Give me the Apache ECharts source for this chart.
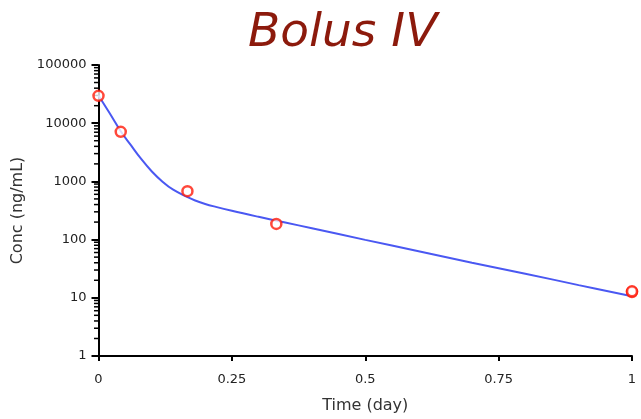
<!DOCTYPE html>
<html>
<head>
<meta charset="utf-8">
<script src="https://cdn.jsdelivr.net/npm/echarts@6/dist/echarts.min.js"></script>
<style>
  html, body { margin: 0; padding: 0; background: #fff; }
  #chart { width: 641px; height: 419px; }
</style>
</head>
<body>
<div id="chart"></div>
<script>
// Observed plasma concentrations after an IV bolus
const obsTime = [0, 0.0417, 0.1667, 0.3333, 1, 1];
const obsConc = [29500, 7100, 680, 186, 12.6, 12.9];

// Fitted concentration-time curve
const fitTime = [0, 0.021, 0.042, 0.06, 0.08, 0.10, 0.12, 0.14, 0.167, 0.18, 0.20, 0.22, 0.25, 0.30, 0.35, 0.40, 0.50, 0.60, 0.70, 0.80, 0.90, 1.00];
const fitConc = [30000, 14800, 7200, 4280, 2430, 1480, 990, 720, 535, 475, 410, 365, 312, 246, 196, 157, 99, 63, 40, 26, 16.5, 10.6];

// Axis ticks
const xTicks = [0, 0.25, 0.5, 0.75, 1];
const yDecades = [1, 10, 100, 1000, 10000, 100000];

const minorTicks = [];
yDecades.slice(0, -1).forEach(d => {
  for (let k = 2; k <= 9; k++) minorTicks.push([0, d * k]);
});

const FONT = 'DejaVu Sans';
const chart = echarts.init(document.getElementById('chart'), null, { renderer: 'canvas' });

chart.setOption({
  animation: false,
  backgroundColor: '#ffffff',
  title: {
    text: 'Bolus IV',
    left: 243,
    top: 5,
    textStyle: {
      fontFamily: FONT,
      fontStyle: 'italic',
      fontWeight: 'normal',
      fontSize: 47,
      color: '#8c1a0c'
    }
  },
  grid: { left: 98.5, right: 9, top: 65, bottom: 61, containLabel: false },
  xAxis: {
    type: 'value',
    min: xTicks[0],
    max: xTicks[xTicks.length - 1],
    interval: 0.25,
    name: 'Time (day)',
    nameLocation: 'middle',
    nameGap: 42,
    nameTextStyle: { fontFamily: FONT, fontSize: 16, color: '#333' },
    axisLine: { lineStyle: { color: '#000', width: 2 } },
    axisTick: { show: true, inside: false, length: 5, lineStyle: { color: '#000', width: 2 } },
    axisLabel: {
      margin: 17,
      fontFamily: FONT,
      fontSize: 13,
      color: '#222',
      formatter: v => String(+v.toFixed(2))
    },
    splitLine: { show: false }
  },
  yAxis: {
    type: 'log',
    logBase: 10,
    min: yDecades[0],
    max: yDecades[yDecades.length - 1],
    splitNumber: 5,
    name: 'Conc (ng/mL)',
    nameLocation: 'middle',
    nameGap: 67,
    nameTextStyle: { fontFamily: FONT, fontSize: 16, color: '#333' },
    axisLine: { show: true, lineStyle: { color: '#000', width: 2 } },
    axisTick: { show: true, inside: false, length: 7, lineStyle: { color: '#000', width: 2 } },
    axisLabel: {
      margin: 12,
      fontFamily: FONT,
      fontSize: 13,
      color: '#222',
      formatter: v => String(Math.round(v))
    },
    splitLine: { show: false }
  },
  series: [
    {
      // log-spaced minor ticks on the concentration axis
      type: 'custom',
      silent: true,
      clip: false,
      data: minorTicks,
      renderItem: (params, api) => {
        const p = api.coord([api.value(0), api.value(1)]);
        return {
          type: 'line',
          shape: { x1: p[0] - 4.5, y1: p[1], x2: p[0], y2: p[1] },
          style: { stroke: '#000', lineWidth: 1.5 }
        };
      },
      z: 1
    },
    {
      name: 'Fit',
      type: 'line',
      data: fitTime.map((t, i) => [t, fitConc[i]]),
      smooth: 0.4,
      showSymbol: false,
      symbol: 'none',
      lineStyle: { color: '#4a58f2', width: 2 },
      z: 2
    },
    {
      name: 'Observed',
      type: 'scatter',
      data: obsTime.map((t, i) => [t, obsConc[i]]),
      symbol: 'circle',
      symbolSize: 10,
      clip: false,
      itemStyle: { color: '#ffffff', borderColor: '#ff1a0a', borderWidth: 2.5 },
      z: 3
    }
  ]
});
</script>
</body>
</html>
